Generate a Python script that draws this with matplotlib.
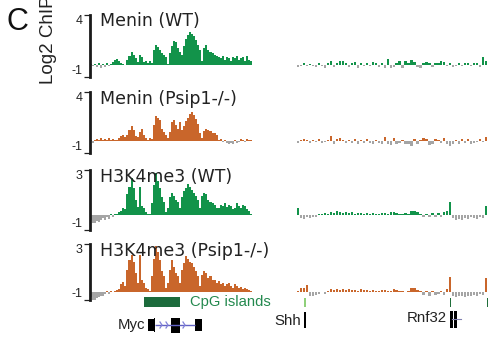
import numpy as np
import matplotlib
matplotlib.use('Agg')
import matplotlib.pyplot as plt

W, H = 493, 338

# ---------------- data ----------------
titles = ["Menin (WT)", "Menin (Psip1-/-)", "H3K4me3 (WT)", "H3K4me3 (Psip1-/-)"]
track_colors = ['#12934a', '#c9662b', '#12934a', '#c9662b']
neg_color = '#a5a5a5'
ytick_top = ['4', '4', '3', '3']
ytick_bot = ['-1', '-1', '-1', '-1']
ylims = [(-1, 4), (-1, 4), (-1, 3), (-0.47, 3)]

# Myc locus (left), Log2 ChIP values per bin
menin_wt_left = [0.05, -0.1, 0.05, -0.2, 0.1, -0.3, 0.05, -0.2, 0.1, -0.1, 0.05,
                 0.2, 0.35, 0.45, 0.3, 0.1, 0.05, -0.05,
                 0.4, 0.7, 1.0, 0.8, 0.5, 0.2, 0.8, 0.6,
                 0.2, 0.3, 0.1, 0.25, 0.1,
                 1.2, 1.55, 1.4, 1.2, 0.9, 0.8, 0.6, 0.05,
                 0.9, 1.5, 1.9, 1.8, 1.3, 1.0, 0.8,
                 1.5, 2.1, 2.4, 2.6, 2.5, 2.3, 2.0, 1.6, 1.2, 0.3,
                 1.3, 1.55, 1.2, 1.0, 0.9, 0.8, 0.7,
                 0.6, 0.5, 0.7, 0.4, 0.6, 0.5, 0.3, 0.6, 0.5, 0.7, 0.4, 0.5, 0.6, 0.3, 0.7, 0.4, 0.3]
menin_ko_left = [0.1, -0.2, 0.1, 0.15, 0.05, 0.2, 0.1, 0.15, 0.05, 0.2, 0.1, 0.15, 0.1, 0.05, 0.2,
                 0.4, 0.5, 0.3,
                 0.5, 0.9, 1.2, 0.9, 0.4, 0.3, 0.7, 0.95, 0.5,
                 0.2, 0.1, 0.2, 0.15,
                 1.3, 2.0, 1.9, 1.7, 1.0, 0.7, 0.5, 0.2,
                 0.7, 1.5, 1.7, 1.3, 1.0, 1.5, 0.9,
                 1.2, 1.6, 1.9, 2.2, 2.34, 2.1, 1.8, 1.4, 0.6, 0.2,
                 0.8, 0.95, 0.9, 0.8, 0.6, 0.6, 0.5,
                 0.1, 0.15, -0.1, 0.1, -0.2, -0.3, -0.2, -0.3, 0.1, -0.2, -0.1, 0.15, 0.1, -0.1, 0.15, 0.1, 0.1]
k4_wt_left = [-0.3, -0.5, -0.55, -0.4, -0.45, -0.3, -0.2, -0.35, -0.15, -0.25, 0.05, -0.1, 0.05,
              0.1, 0.2, 0.3, 0.45, 0.4,
              1.4, 1.9, 2.5, 1.8, 1.0, 0.55, 1.9, 0.6,
              0.5, 0.2, 0.1, 0.05,
              0.8, 2.0, 2.8, 2.3, 1.8, 1.2, 0.9, 0.2,
              0.5, 1.2, 1.5, 1.3, 1.0, 0.9, 0.5,
              1.2, 1.6, 1.8, 2.1, 1.9, 1.7, 1.5, 1.3, 1.0, 0.5,
              1.3, 1.45, 1.4, 1.0, 0.9, 0.8, 0.7, 0.5,
              0.5, 0.7, 0.6, 0.8, 0.55, 0.7, 0.6, 0.4, 0.5, 0.8, 0.6, 0.5, 0.7, 0.6, 0.4, 0.3, 0.1]
k4_ko_left = [-0.3, -0.45, -0.5, -0.35, -0.3, -0.2, -0.25, -0.1, 0.1, -0.1, 0.1, 0.05, 0.1,
              0.15, 0.2, 0.5, 0.65, 0.4,
              1.4, 2.0, 2.3, 1.9, 1.2, 0.6, 2.3, 0.8,
              0.6, 0.3, 0.2, 0.1,
              1.0, 2.1, 2.9, 2.5, 2.0, 1.3, 1.0, 0.3,
              0.6, 1.4, 2.0, 1.6, 1.2, 1.0, 0.6,
              1.4, 1.8, 2.25, 2.1, 1.9, 1.8, 1.6, 1.3, 1.0, 0.4,
              1.1, 1.3, 1.2, 0.9, 1.0, 0.8, 0.8, 0.6,
              0.7, 0.5, 0.6, 0.4, 0.5, 0.6, 0.4, 0.3, 0.5, 0.4, 0.3, 0.35, 0.2, 0.3, 0.2, 0.15, 0.1]

# Shh / Rnf32 locus (right)
menin_wt_right = [-0.2, -0.1, 0.1, -0.15, 0.08, -0.1, -0.2, 0.1, -0.15, -0.25, 0.1, 0.27, -0.2, 0.12,
                  0.3, 0.25, 0.1, -0.2, 0.15, 0.2, -0.25, 0.1, -0.15, 0.15, -0.1, 0.2, 0.15, -0.2,
                  0.1, -0.25, 0.45, -0.25, -0.2, 0.1, 0.3, -0.3, 0.3, 0.15, 0.35, 0.2, -0.2, -0.25,
                  0.1, 0.2, 0.12, -0.2, 0.1, 0.15, 0.25, 0.2, -0.15, 0.1, -0.2, -0.1, 0.1, -0.15,
                  0.12, 0.15, -0.1, 0.1, 0.1, -0.2, 0.6, 0.3]
menin_ko_right = [-0.15, 0.1, 0.15, 0.1, -0.2, 0.1, -0.1, 0.15, -0.2, -0.1, 0.1, 0.38, -0.25, 0.15,
                  0.2, 0.1, -0.15, 0.1, -0.2, 0.12, -0.25, 0.1, -0.15, 0.15, -0.2, -0.25, 0.1, -0.2,
                  -0.3, 0.3, -0.25, -0.35, 0.2, -0.3, -0.2, 0.1, -0.25, -0.3, -0.45, 0.15, -0.3, 0.1,
                  0.2, 0.15, -0.35, -0.25, 0.15, 0.1, -0.2, 0.2, -0.3, -0.4, -0.25, 0.1, -0.3, 0.12,
                  -0.2, 0.15, -0.3, -0.2, -0.1, 0.15, -0.1, 0.35]
k4_wt_right = [0.5,
               -0.2, -0.25, -0.15, -0.2, -0.1, -0.15, 0.05,
               0.1, 0.15, 0.1, 0.2, 0.15, 0.25, 0.2, 0.15, 0.2, 0.15, 0.18, 0.1, 0.15, 0.12, 0.1, 0.15,
               0.1, 0.12, 0.08, 0.1, 0.15, 0.12, 0.1, 0.2, 0.18, 0.15, 0.1, 0.05, 0.12, 0.1, 0.25, 0.3,
               0.2, 0.05,
               -0.1, 0.1, -0.15, 0.12, -0.1, 0.15, -0.15, 0.2, 0.3,
               0.87,
               -0.2, -0.3, -0.25, -0.3, -0.2, -0.25, -0.15, -0.2, -0.25, -0.15, -0.2,
               0.6]
k4_ko_right = [0.1, 0.25, 0.3, 0.45,
               -0.2, -0.25, -0.15, -0.1,
               0.05, -0.1, 0.1, 0.2, 0.15, 0.2, 0.15, 0.2, 0.15, 0.2, 0.12, 0.15, 0.1, 0.2, 0.15, 0.12,
               0.1, 0.15, 0.08, 0.1, 0.12, 0.15, 0.1, 0.1, 0.2, 0.15, 0.08, 0.1, 0.05, 0.1, 0.3, 0.25,
               0.15, 0.1,
               -0.15, 0.1, -0.2, 0.1, -0.15, -0.1, 0.1, -0.15, 0.2,
               0.98,
               -0.25, -0.3, -0.2, -0.25, -0.3, -0.2, -0.25, -0.15, -0.2, -0.1, -0.15,
               0.9]

left_data = [menin_wt_left, menin_ko_left, k4_wt_left, k4_ko_left]
right_data = [menin_wt_right, menin_ko_right, k4_wt_right, k4_ko_right]

# annotation features (in pixel-like coordinate of the browser view)
cpg_start, cpg_end = 144, 180
cpg_marks_light = [305]
cpg_marks_dark = [450, 487]
myc_exons = [(148, 155, 12), (171, 180, 15), (195, 202, 12)]   # start, end, height
myc_chevrons = [162, 168, 185]
shh_bars = [(303.5, 306)]
rnf32_bars = [(450, 452.7), (454.3, 457)]

# ---------------- layout ----------------
track_top_px = [15, 92, 170, 244]
track_bot_px = [77, 153, 230, 300]
left_x = (90, 252)
right_x = (297, 488)

fig = plt.figure(figsize=(W / 100, H / 100), dpi=100)
fig.patch.set_facecolor('white')

def add_ax(x0, x1, ytop, ybot):
    return fig.add_axes([x0 / W, 1 - ybot / H, (x1 - x0) / W, (ybot - ytop) / H])

for i in range(4):
    for side, (x0, x1), vals in (('L', left_x, left_data[i]), ('R', right_x, right_data[i])):
        ax = add_ax(x0, x1, track_top_px[i], track_bot_px[i])
        v = np.array(vals)
        cols = [track_colors[i] if val >= 0 else neg_color for val in v]
        bw = 1.0 if side == 'L' else 0.75
        ax.bar(np.arange(len(v)), v, width=bw, align='edge', color=cols, linewidth=0)
        ax.set_xlim(0, len(v))
        ax.set_ylim(*ylims[i])
        ax.set_facecolor('none')
        for s in ('top', 'right', 'bottom'):
            ax.spines[s].set_visible(False)
        ax.set_xticks([])
        if side == 'L':
            ax.spines['left'].set_linewidth(2)
            ax.spines['left'].set_color('#1a1a1a')
            ax.set_yticks(list(ylims[i]))
            ax.set_yticklabels([ytick_bot[i], ytick_top[i]], fontsize=9,
                               family='Liberation Sans', color='#222222')
            ax.tick_params(axis='y', direction='out', length=4, width=0.9, pad=1.5,
                           color='#222222')
            lbls = ax.get_yticklabels()
            lbls[0].set_va('bottom')
            lbls[1].set_va('top')
        else:
            ax.spines['left'].set_visible(False)
            ax.set_yticks([])
    fig.text(100 / W, 1 - (track_top_px[i] - 2.5) / H, titles[i], ha='left', va='top',
             fontsize=12.5, family='DejaVu Sans', color='#222222', zorder=5)

# panel label and y label
fig.text(7 / W, 1 - 7 / H, 'C', ha='left', va='top', fontsize=22,
         family='Liberation Sans', color='#111111')
fig.text(40 / W, 1 - 84 / H, 'Log2 ChIP', rotation=90, ha='left', va='bottom',
         fontsize=13.5, family='Liberation Sans', color='#222222')

# annotation layer
an = fig.add_axes([0, 0, 1, 1])
an.set_xlim(0, W)
an.set_ylim(H, 0)
an.axis('off')
an.set_facecolor('none')

an.add_patch(plt.Rectangle((cpg_start, 297), cpg_end - cpg_start, 10, color='#1c6b3c', lw=0))
an.text(190, 302, 'CpG islands', ha='left', va='center', fontsize=10.6,
        family='Liberation Sans', color='#23894e')
for xm in cpg_marks_light:
    an.add_patch(plt.Rectangle((xm - 1, 298), 2.2, 9, color='#8fd07a', lw=0))
for xm in cpg_marks_dark:
    an.add_patch(plt.Rectangle((xm - 0.5, 298), 1.2, 9, color='#1f6e3a', lw=0))

# Myc gene model
an.plot([155, 195], [325, 325], color='#6262c4', lw=1.0, solid_capstyle='butt')
for cx in myc_chevrons:
    an.plot([cx - 2, cx, cx - 2], [322, 325, 328], color='#8080d8', lw=0.9)
for (s, e, h) in myc_exons:
    an.add_patch(plt.Rectangle((s, 325 - h / 2), e - s, h, color='black', lw=0))
an.add_patch(plt.Rectangle((154, 318), 1.2, 14, color='black', lw=0))
an.text(145, 325, 'Myc', ha='right', va='center', fontsize=10.8,
        family='Liberation Sans', color='#222222')

# Shh
for (s, e) in shh_bars:
    an.add_patch(plt.Rectangle((s, 312), e - s, 16, color='black', lw=0))
an.text(301, 321, 'Shh', ha='right', va='center', fontsize=10.8,
        family='Liberation Sans', color='#222222')

# Rnf32
an.plot([452, 461], [319, 319], color='#8080b0', lw=0.8)
for (s, e) in rnf32_bars:
    an.add_patch(plt.Rectangle((s, 311), e - s, 17, color='black', lw=0))
an.text(447, 318, 'Rnf32', ha='right', va='center', fontsize=10.8,
        family='Liberation Sans', color='#222222')

fig.savefig('out.png', dpi=100, facecolor='white')
